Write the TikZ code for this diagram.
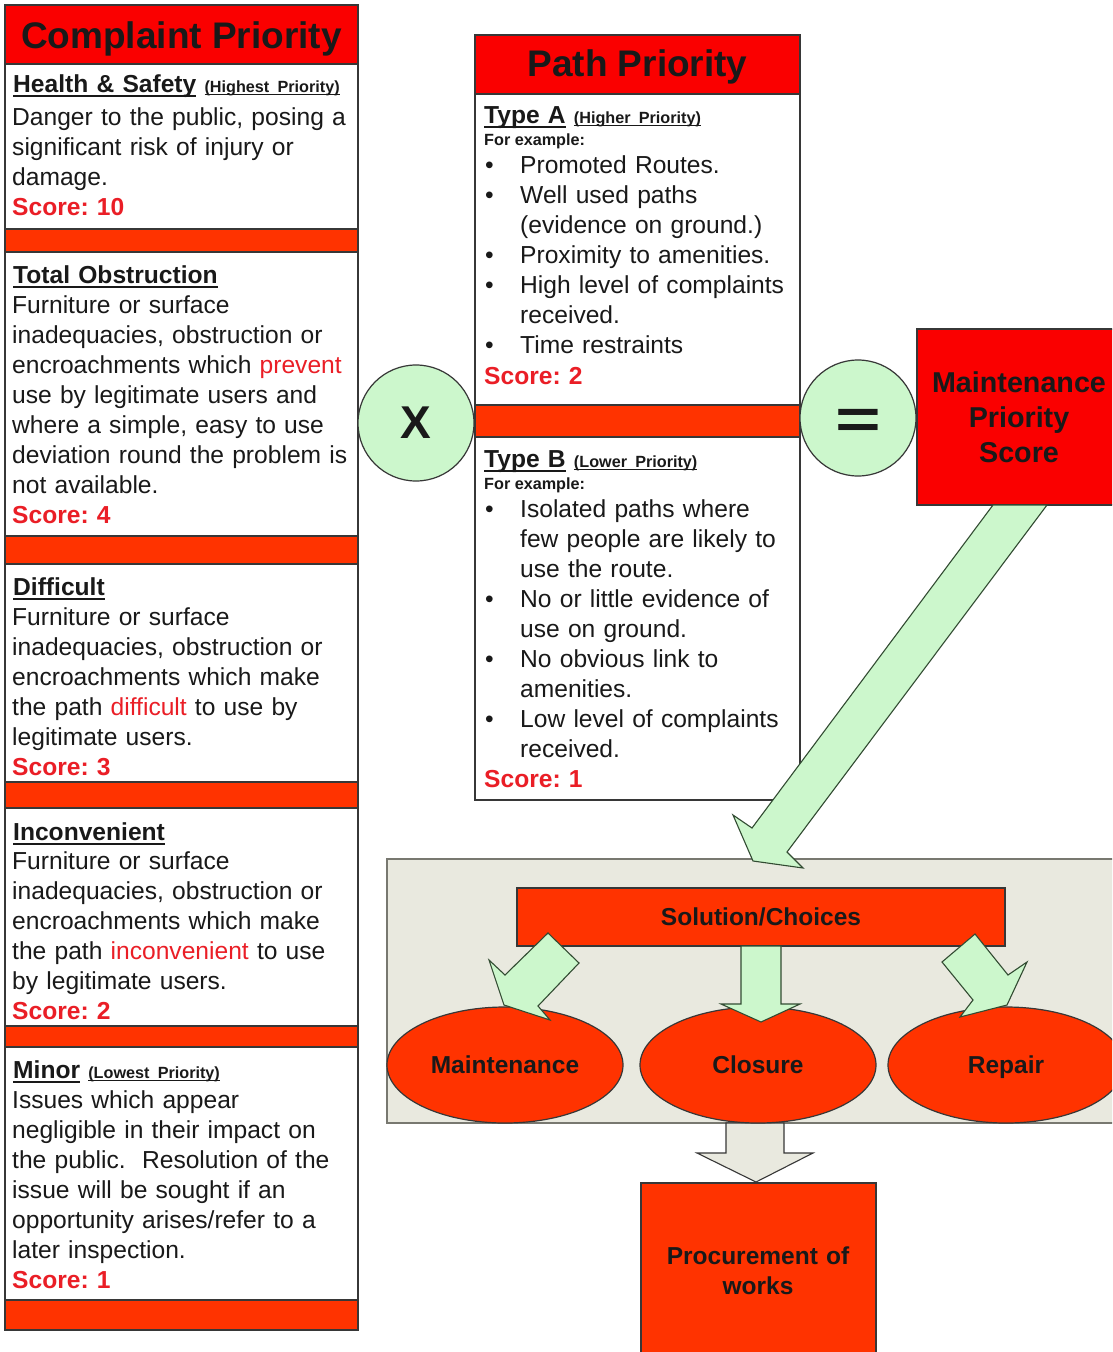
\documentclass[tikz,border=0pt]{standalone}
\usepackage{fontspec}
\setmainfont{Liberation Sans}
\usepackage{graphicx}
\usetikzlibrary{shapes.geometric}
\definecolor{tred}{RGB}{250,0,0}
\definecolor{obar}{RGB}{255,51,0}
\definecolor{lgreen}{RGB}{204,247,204}
\definecolor{cgray}{RGB}{233,233,223}
\definecolor{scorered}{RGB}{234,30,38}
\definecolor{ink}{RGB}{25,25,25}
\definecolor{edge}{RGB}{55,55,55}
\definecolor{gedge}{RGB}{50,75,50}
\definecolor{cedge}{RGB}{120,120,112}
\frenchspacing
\newcommand\ulin[1]{\setbox0=\hbox{#1}\rlap{\rule[-0.19em]{\wd0}{0.075em}}\box0\relax}
\newcommand\bodyfs{\fontsize{24.6}{30}\selectfont}
\newcommand\smallfs{\fontsize{16.2}{20}\selectfont}
\newcommand\scoretxt[1]{{\bfseries\color{scorered}#1}}
\newcommand\redwd[1]{\textcolor{scorered}{#1}}
\newcommand\bul{\leavevmode\llap{\textbullet\hspace{26.5pt}}}
\begin{document}
\begin{tikzpicture}[x=1pt,y=-1pt,
  wsec/.style={draw=edge,line width=1.3pt,fill=white},
  obarr/.style={draw=edge,line width=1.3pt,fill=obar},
  rtitle/.style={draw=edge,line width=1.3pt,fill=tred},
  ttl/.style={font=\fontsize{37}{40}\selectfont\bfseries,text=ink,inner sep=0pt,text depth=0pt},
  hdr/.style={anchor=base west,inner sep=0pt,font=\bodyfs\bfseries,text=ink,text width=360pt,align=left},
  bodytxt/.style={anchor=base west,inner sep=0pt,font=\bodyfs,text=ink,text width=360pt,align=left},
  smallb/.style={anchor=base west,inner sep=0pt,font=\smallfs\bfseries,text=ink},
  circ/.style={circle,draw=edge,line width=1.2pt,fill=lgreen,minimum size=116pt,inner sep=0pt},
  garrow/.style={draw=gedge,line width=1.1pt,fill=lgreen,line join=miter},
  yarrow/.style={draw=edge,line width=1.1pt,fill=cgray,line join=miter},
  lbl/.style={font=\fontsize{24.5}{30}\selectfont\bfseries,text=ink},
  obox/.style={draw=edge,line width=1.2pt,fill=obar},
  oboxn/.style={obox,inner sep=0pt,lbl,text height=17.6pt,text depth=0pt},
  ellip/.style={ellipse,draw=edge,line width=1.2pt,fill=obar,minimum width=236pt,minimum height=116pt,inner sep=0pt,lbl,text height=17.6pt,text depth=0pt},
]
\useasboundingbox (0,0) rectangle (1112,1352);
\clip (0,0) rectangle (1112,1352);
\fill[white] (0,0) rectangle (1112,1352);

% ---------- left column ----------
\path[rtitle] (5,5) rectangle (358,64);
\path[wsec] (5,64) rectangle (358,229);
\path[obarr] (5,229) rectangle (358,252);
\path[wsec] (5,252) rectangle (358,536);
\path[obarr] (5,536) rectangle (358,564);
\path[wsec] (5,564) rectangle (358,782);
\path[obarr] (5,782) rectangle (358,808);
\path[wsec] (5,808) rectangle (358,1026);
\path[obarr] (5,1026) rectangle (358,1047);
\path[wsec] (5,1047) rectangle (358,1300);
\path[obarr] (5,1300) rectangle (358,1330);

% ---------- middle column ----------
\path[rtitle] (475,35) rectangle (800,94);
\path[wsec] (475,94) rectangle (800,405);
\path[obarr] (475,405) rectangle (800,437);
\path[wsec] (475,437) rectangle (800,800);

% ---------- right side ----------
\path[draw=cedge,line width=1.3pt,fill=cgray] (387,859) rectangle (1125,1123);
\path[rtitle] (917,329) rectangle (1125,505);

% operators
\node[circ,font=\fontsize{46}{46}\selectfont\bfseries,text=ink,text depth=0pt] (times) at (416,423) {X};
\node[circ] (eq) at (858,418) {};
\node[font=\fontsize{56}{56}\selectfont\bfseries,text=ink,inner sep=0pt] (eqsign) at (858,423.5) {\scalebox{1.4}[1]{=}};

% big arrow
\path[garrow] (993,505) -- (1047,505) -- (787,852) -- (803,868) -- (753,861) -- (733,815) -- (752,828) -- cycle;

% solution box and choices
\node[oboxn,minimum width=488pt,minimum height=58pt] (sol) at (761,917) {Solution/Choices};
\path[yarrow] (726,1123) -- (784,1123) -- (784,1153) -- (813,1153) -- (756,1182) -- (697,1153) -- (726,1153) -- cycle;
\node[ellip] (maint) at (505,1065) {Maintenance};
\node[ellip] (clos) at (758,1065) {Closure};
\node[ellip] (rep) at (1006,1065) {Repair};
\path[garrow] (548,933) -- (579,963) -- (538,1006) -- (550,1020) -- (504,1005) -- (489,960) -- (505,975) -- cycle;
\path[garrow] (741,946) -- (781,946) -- (781,1004) -- (800,1004) -- (761,1022) -- (721,1004) -- (741,1004) -- cycle;
\path[garrow] (975,934) -- (942,962) -- (973,1000) -- (960,1017) -- (1007,1005) -- (1027,962) -- (1008,975) -- cycle;
\path[obox] (641,1183) rectangle (876,1362);

% ---------- texts ----------
\node[ttl] (cpt) at (181.5,35) {Complaint Priority};
\node[ttl] (ppt) at (637.5,63) {Path Priority};

\node[hdr] (h1) at (13,92) {\ulin{Health \& Safety} {\smallfs\ulin{(Highest Priority)}}};
\node[bodytxt] (b1) at (12,125) {Danger to the public, posing a\\ significant risk of injury or\\ damage.\\ \scoretxt{Score: 10}};

\node[hdr] (h2) at (13,283) {\ulin{Total Obstruction}};
\node[bodytxt] (b2) at (12,313) {Furniture or surface\\ inadequacies, obstruction or\\ encroachments which \redwd{prevent}\\ use by legitimate users and\\ where a simple, easy to use\\ deviation round the problem is\\ not available.\\ \scoretxt{Score: 4}};

\node[hdr] (h3) at (13,595) {\ulin{Difficult}};
\node[bodytxt] (b3) at (12,625) {Furniture or surface\\ inadequacies, obstruction or\\ encroachments which make\\ the path \redwd{difficult} to use by\\ legitimate users.\\ \scoretxt{Score: 3}};

\node[hdr] (h4) at (13,840) {\ulin{Inconvenient}};
\node[bodytxt] (b4) at (12,869) {Furniture or surface\\ inadequacies, obstruction or\\ encroachments which make\\ the path \redwd{inconvenient} to use\\ by legitimate users.\\ \scoretxt{Score: 2}};

\node[hdr] (h5) at (13,1078) {\ulin{Minor} {\smallfs\ulin{(Lowest Priority)}}};
\node[bodytxt] (b5) at (12,1108) {Issues which appear\\ negligible in their impact on\\ the public.\ \ Resolution of the\\ issue will be sought if an\\ opportunity arises/refer to a\\ later inspection.\\ \scoretxt{Score: 1}};

\node[hdr] (ta) at (484,123) {\ulin{Type A} {\smallfs\ulin{(Higher Priority)}}};
\node[smallb] (tafe) at (484,145) {For example:};
\node[bodytxt] (tal) at (520,173) {\bul Promoted Routes.\\ \bul Well used paths\\ (evidence on ground.)\\ \bul Proximity to amenities.\\ \bul High level of complaints\\ received.\\ \bul Time restraints};
\node[bodytxt] (tas) at (484,384) {\scoretxt{Score: 2}};

\node[hdr] (tb) at (484,467) {\ulin{Type B} {\smallfs\ulin{(Lower Priority)}}};
\node[smallb] (tbfe) at (484,489) {For example:};
\node[bodytxt] (tbl) at (520,517) {\bul Isolated paths where\\ few people are likely to\\ use the route.\\ \bul No or little evidence of\\ use on ground.\\ \bul No obvious link to\\ amenities.\\ \bul Low level of complaints\\ received.};
\node[bodytxt] (tbs) at (484,787) {\scoretxt{Score: 1}};

\node[font=\fontsize{28.7}{35}\selectfont\bfseries,text=ink,text width=200pt,align=center,inner sep=0pt] (mps) at (1019,417) {Maintenance\\ Priority\\ Score};
\node[lbl,text width=230pt,align=center,anchor=base,inner sep=0pt] (proc) at (758,1264) {Procurement of\\ works};
\end{tikzpicture}
\end{document}
